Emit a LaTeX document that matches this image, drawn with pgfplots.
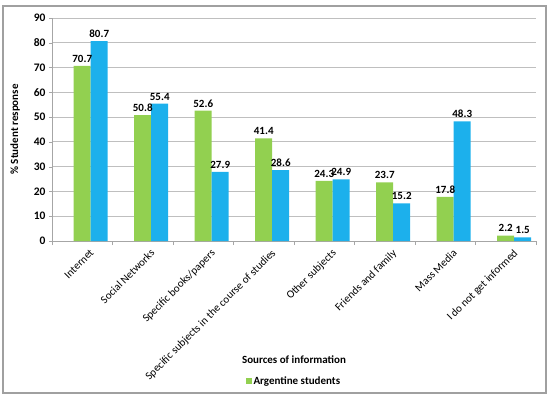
\documentclass[border=0pt]{standalone}
\usepackage{pgfplots}
\pgfplotsset{compat=1.18}
\usepackage{fontspec}
\setmainfont{Carlito}
\definecolor{cgreen}{HTML}{92D050}
\definecolor{cblue}{HTML}{1CB0EC}
\definecolor{cgrid}{HTML}{BFBFBF}
\definecolor{caxis}{HTML}{A6A6A6}
\definecolor{cframe}{HTML}{A0A0A0}
\begin{document}
\begin{tikzpicture}
\begin{axis}[
  at={(0pt,0pt)}, anchor=south west,
  scale only axis, width=484pt, height=223pt,
  ybar=0pt, bar width=17pt,
  xmin=-0.5, xmax=7.5, ymin=0, ymax=90,
  ytick={0,10,...,90},
  xtick={0,...,7},
  xticklabels={Internet, Social Networks, Specific books/papers, Specific subjects in the course of studies, Other subjects, Friends and family, Mass Media, I do not get informed},
  x tick label style={rotate=45, anchor=north east, font=\fontsize{11}{13}\selectfont, inner sep=2pt, xshift=4pt, yshift=-6pt},
  y tick label style={font=\fontsize{11.5}{13}\selectfont\bfseries},
  /pgf/number format/assume math mode=true,
  major x tick style={draw=none},
  minor xtick={-0.5,0.5,...,7.5},
  minor x tick style={draw=caxis},
  minor tick length=4pt,
  major tick length=3pt,
  tick align=outside,
  y tick style={draw=caxis},
  axis x line*=bottom, axis y line*=left,
  axis line style={draw=caxis, line width=0.8pt},
  ymajorgrids, grid style={cgrid, line width=0.8pt},
  xlabel={Sources of information},
  xlabel style={at={(axis description cs:0.5,-0.534)}, anchor=center, font=\fontsize{11}{13}\selectfont\bfseries},
  ylabel={\% Student response},
  ylabel style={at={(axis description cs:-0.0764,0.5)}, anchor=center, font=\fontsize{11}{13}\selectfont\bfseries},
  nodes near coords,
  nodes near coords style={font=\fontsize{11}{13}\selectfont\bfseries, text=black, /pgf/number format/fixed, /pgf/number format/precision=1, /pgf/number format/fixed zerofill, /pgf/number format/assume math mode=true},
  legend style={at={(axis description cs:0.5,-0.628)}, anchor=center, draw=none, font=\fontsize{11}{13}\selectfont\bfseries},
  legend image code/.code={\fill[cgreen] (0cm,-0.1cm) rectangle (0.2cm,0.1cm);},
]
\addplot[fill=cgreen, draw=none] coordinates {(0,70.7) (1,50.8) (2,52.6) (3,41.4) (4,24.3) (5,23.7) (6,17.8) (7,2.2)};
\addlegendentry{Argentine students}
\addplot[fill=cblue, draw=none, forget plot] coordinates {(0,80.7) (1,55.4) (2,27.9) (3,28.6) (4,24.9) (5,15.2) (6,48.3) (7,1.5)};
\end{axis}
\draw[cframe, line width=1.2pt] (-49pt,-152pt) rectangle (494pt,235pt);
\path[use as bounding box] (-52pt,-158pt) rectangle (498pt,241pt);
\end{tikzpicture}
\end{document}
